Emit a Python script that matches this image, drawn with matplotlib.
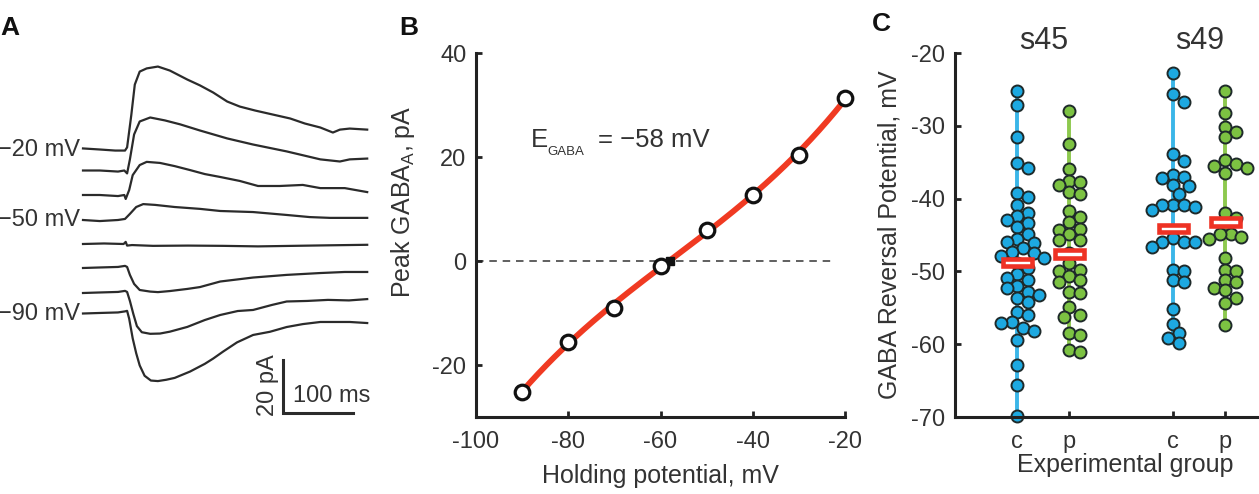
import numpy as np
import matplotlib
matplotlib.use("Agg")
import matplotlib.pyplot as plt
from matplotlib.patches import Rectangle

plt.rcParams['font.family'] = ['Liberation Sans', 'DejaVu Sans']
plt.rcParams['axes.unicode_minus'] = False

# ---------------- data ----------------
# Panel A: example currents (time in ms, current in pA), one per holding potential
trace_labels = ["−20 mV", "", "", "−50 mV", "", "", "", "−90 mV"]
t_m20 = [0, 24, 46, 60, 63, 69, 74, 81, 91, 107, 124, 149, 167, 186, 206, 224, 246, 271, 296, 317, 339, 357, 367, 381, 406]
i_m20 = [0.4, 0, -0.4, -0.4, 0.8, 13, 24.5, 29.4, 30.6, 31.3, 29.8, 26.4, 24.2, 21.5, 18.1, 16.2, 14.7, 13.2, 11.7, 9.8, 8.3, 6.4, 7.5, 7.9, 7.5]
t_m30 = [0, 24, 50, 59, 63, 67, 73, 81, 96, 117, 139, 167, 206, 243, 291, 339, 367, 381, 406]
i_m30 = [0, 0, -0.4, 0, -1.1, 4.2, 13.6, 18.5, 20.0, 18.9, 17.4, 15.1, 12.1, 9.8, 7.2, 4.2, 3.4, 4.2, 4.5]
t_m40 = [0, 24, 50, 59, 61, 66, 71, 81, 91, 110, 131, 153, 174, 196, 224, 250, 281, 314, 339, 374, 406]
i_m40 = [0, 0, -0.4, 0, -1.5, 1.9, 7.5, 11.3, 12.5, 12.1, 10.9, 9.4, 7.9, 6.8, 5.3, 3.4, 3.4, 3.8, 2.6, 2.6, 1.1]
t_m50 = [0, 24, 50, 60, 67, 76, 86, 103, 131, 167, 196, 243, 291, 324, 353, 406]
i_m50 = [0, -0.4, 0, 0.4, 2.3, 4.9, 6.0, 5.7, 4.9, 4.2, 3.4, 3.0, 1.9, 1.1, 0.8, 0.8]
t_m60 = [0, 30, 58, 61, 63, 70, 100, 150, 200, 250, 300, 350, 406]
i_m60 = [0, 0.2, 0, 0.8, -0.6, -0.4, -0.7, -0.6, -0.7, -0.9, -0.7, -0.5, -0.3]
t_m70 = [0, 24, 50, 60, 63, 67, 73, 81, 96, 107, 124, 149, 167, 196, 243, 291, 339, 374, 406]
i_m70 = [0, 0.2, 0.4, 0.8, 0.4, -2.6, -6.0, -8.3, -8.9, -9.1, -8.7, -7.9, -7.2, -5.1, -3.6, -2.6, -1.9, -1.5, -1.5]
t_m80 = [0, 24, 50, 60, 63, 67, 72, 77, 84, 96, 110, 124, 149, 174, 196, 221, 243, 270, 291, 320, 350, 380, 406]
i_m80 = [0, 0.2, 0.4, 0.8, 0.4, -3.0, -8.0, -12.5, -14.8, -15.4, -15.3, -14.6, -12.8, -10.2, -8.3, -6.8, -6.4, -4.5, -3.2, -3.0, -2.6, -2.8, -2.3]
t_m90 = [0, 24, 50, 60, 63, 66, 71, 76, 81, 88, 97, 107, 119, 131, 153, 174, 186, 200, 220, 243, 267, 291, 314, 339, 360, 381, 406]
i_m90 = [0, 0.2, 0.4, 0.8, 1.0, -2.0, -9.4, -15.0, -19.6, -23.5, -25.3, -25.5, -25.0, -24.3, -21.9, -19.0, -17.0, -14.4, -10.9, -8.1, -6.9, -5.1, -4.0, -3.2, -3.2, -3.2, -3.6]
traces_t = [t_m20, t_m30, t_m40, t_m50, t_m60, t_m70, t_m80, t_m90]
traces_i = [i_m20, i_m30, i_m40, i_m50, i_m60, i_m70, i_m80, i_m90]

# Panel B: I-V relation
hold_mV = [-90, -80, -70, -60, -50, -40, -30, -20]
peak_pA = [-25.1, -15.5, -9.1, -0.9, 6.0, 12.7, 20.4, 31.3]
e_gaba = -58

# Panel C: GABA reversal potentials
strains = ["s45", "s49"]
group_labels = ["c", "p", "c", "p"]
s45_c = [-25.2, -27.2, -31.5, -35.1, -35.8, -39.2, -39.8, -40.9, -42.0, -42.4, -42.9, -43.4, -43.9, -44.8,
         -45.5, -45.9, -46.1, -46.8, -47.3, -47.5, -47.9, -48.1, -48.9, -49.6, -50.3, -50.9, -51.2, -52.0,
         -52.3, -52.8, -53.3, -53.6, -54.2, -55.6, -56.0, -56.9, -57.1, -57.8, -58.2, -59.4, -62.9, -65.6, -69.9]
s45_p = [-28.0, -32.5, -35.9, -37.6, -37.7, -38.1, -39.1, -39.3, -41.7, -42.5, -43.2, -44.2, -44.3, -44.8,
         -45.7, -45.7, -47.5, -48.9, -49.8, -50.0, -50.7, -51.2, -51.4, -52.8, -53.0, -54.9, -56.0, -56.2,
         -58.5, -58.8, -60.8, -61.1]
s49_c = [-22.7, -25.7, -26.7, -33.9, -34.9, -36.7, -37.0, -37.2, -38.1, -38.3, -39.3, -40.9, -40.9, -41.1,
         -40.9, -41.6, -45.4, -45.9, -45.9, -45.9, -46.6, -49.8, -50.0, -51.2, -51.4, -55.1, -57.2, -58.5,
         -59.2, -59.9]
s49_p = [-25.2, -28.2, -30.1, -30.8, -31.6, -34.7, -35.2, -35.5, -35.8, -36.5, -42.0, -42.7, -43.5, -44.8,
         -44.8, -45.5, -45.3, -48.2, -49.8, -50.0, -51.2, -51.4, -52.3, -52.6, -53.7, -54.4, -57.4]
group_means = [-48.8, -47.6, -44.1, -43.2]

# ---------------- figure ----------------
W, H = 1259, 494
fig = plt.figure(figsize=(W / 100, H / 100), dpi=100)
TXT = '#333333'
FS = 17
FL = 18

def fx(px):
    return px / W

def fy(py):
    return 1 - py / H

# ---- Panel A ----
axA = fig.add_axes([0, 0, 400 / W, 1])
axA.set_xlim((0 - 83) / 0.7, (400 - 83) / 0.7)
axA.set_ylim((149.5 - 494) / 2.65, 149.5 / 2.65)
axA.axis('off')
baselines_px = [149.5, 170.5, 195, 220, 244, 268, 293, 313.5]
for tt, ii, b, lab in zip(traces_t, traces_i, baselines_px, trace_labels):
    off = (149.5 - b) / 2.65
    axA.plot(tt, np.array(ii) + off, color='#2b2b2b', lw=1.6, solid_joinstyle='round')
    if lab:
        axA.text(-4.5, off, lab, ha='right', va='center', fontsize=FS, color=TXT)
# scale bar: 20 pA, 100 ms
sb_x = (283 - 83) / 0.7
sb_y = (149.5 - 413) / 2.65
axA.plot([sb_x, sb_x, sb_x + 100], [sb_y + 20, sb_y, sb_y], color='#2b2b2b', lw=2.2,
         solid_joinstyle='miter')
axA.text(sb_x - 6, sb_y + 10.5, "20 pA", rotation=90, ha='right', va='center', fontsize=FS, color=TXT)
axA.text(sb_x + 69, sb_y + 6.5, "100 ms", ha='center', va='center', fontsize=FS, color=TXT)

# ---- Panel B ----
axB = fig.add_axes([fx(476), fy(417), 369 / W, 364 / H])
axB.set_xlim(-100, -20)
axB.set_ylim(-30, 40)
for s in ['top', 'right']:
    axB.spines[s].set_visible(False)
for s in ['left', 'bottom']:
    axB.spines[s].set_linewidth(2.2)
    axB.spines[s].set_color('#222222')
axB.set_xticks([-100, -80, -60, -40, -20])
axB.set_yticks([-20, 0, 20, 40])
axB.tick_params(direction='in', length=4, width=2, color='#222222', labelsize=FS, labelcolor=TXT)
axB.tick_params(axis='x', pad=10)
axB.tick_params(axis='y', pad=7)
axB.plot([-100, -23], [0, 0], ls=(0, (4.5, 3.5)), color='#444444', lw=1.2, zorder=1)
coef = np.polyfit(hold_mV, peak_pA, 3)
xf = np.linspace(min(hold_mV), max(hold_mV), 200)
axB.plot(xf, np.polyval(coef, xf), color='#F03A22', lw=4.2, zorder=2, clip_on=False)
axB.plot([e_gaba], [0], marker='s', color='#111111', ms=6, zorder=3)
axB.plot(hold_mV, peak_pA, 'o', mfc='white', mec='#111111', mew=2.3, ms=10.5, zorder=4, clip_on=False)
axB.set_xlabel("Holding potential, mV", fontsize=FL, color=TXT, labelpad=8)
axB.set_ylabel(r"Peak GABA$_\mathregular{A}$, pA", fontsize=FL, color=TXT)
axB.yaxis.set_label_coords(-0.16, 0.59)
axB.text(-88.2, 21.9, "E", fontsize=18.5, color=TXT, ha='left', va='baseline')
axB.text(-84.5, 20.3, "GABA", fontsize=9.5, color=TXT, ha='left', va='baseline')
axB.text(-73.6, 21.9, "= −58 mV", fontsize=18.5, color=TXT, ha='left', va='baseline')

# ---- Panel C ----
axC = fig.add_axes([fx(955), fy(417), (W - 955) / W, 364 / H])
xlim_c = (-0.2, 5.65)
ylim_c = (-70, -20)
axC.set_xlim(*xlim_c)
axC.set_ylim(*ylim_c)
for s in ['top', 'right']:
    axC.spines[s].set_visible(False)
for s in ['left', 'bottom']:
    axC.spines[s].set_linewidth(2.2)
    axC.spines[s].set_color('#222222')
positions = [1, 2, 4, 5]
axC.set_xticks(positions)
axC.set_xticklabels(group_labels)
axC.set_yticks([-70, -60, -50, -40, -30, -20])
axC.tick_params(direction='in', length=4, width=2, color='#222222', labelsize=FS, labelcolor=TXT)
axC.tick_params(axis='x', pad=10)
axC.tick_params(axis='y', pad=7)
axC.set_xlabel("Experimental group", fontsize=FL, color=TXT)
axC.xaxis.set_label_coords(0.56, -0.1)
axC.set_ylabel("GABA Reversal Potential, mV", fontsize=FL, color=TXT)
axC.yaxis.set_label_coords(-0.175, 0.5)

px_per_x = (W - 955) / (xlim_c[1] - xlim_c[0])
px_per_y = 364 / (ylim_c[1] - ylim_c[0])
diam = 12.0

def swarm_offsets(vals):
    vals = np.asarray(vals, float)
    order = np.argsort(-vals)
    placed = []
    offs = np.zeros(len(vals))
    step = diam * 0.45
    for idx in order:
        y = vals[idx] * px_per_y
        cands = [0.0]
        for k in range(1, 8):
            cands += [k * step, -k * step]
        for c in cands:
            ok = all((c - px) ** 2 + (y - py) ** 2 >= (diam * 0.82) ** 2 for px, py in placed)
            if ok:
                break
        placed.append((c, y))
        offs[idx] = c / px_per_x
    return offs

groups = [s45_c, s45_p, s49_c, s49_p]
fills = ['#1DA9E1', '#7CC242', '#1DA9E1', '#7CC242']
lines = ['#3BB6E8', '#8DC94E', '#3BB6E8', '#8DC94E']
for pos, vals, fc, lc, m in zip(positions, groups, fills, lines, group_means):
    axC.plot([pos, pos], [min(vals), max(vals)], color=lc, lw=2.8, zorder=1)
    offs = swarm_offsets(vals)
    axC.scatter(pos + offs, vals, s=(diam * 0.72) ** 2, facecolor=fc, edgecolor='#1e2a2a',
                linewidth=1.4, zorder=2, clip_on=False)
    bw = 0.56
    axC.add_patch(Rectangle((pos - bw / 2, m - 0.5), bw, 1.0, facecolor='white',
                            edgecolor='#EE3224', linewidth=3.3, zorder=3))
for xs, lab in zip([1.5, 4.5], strains):
    axC.annotate(lab, xy=(xs, 1.032), xycoords=('data', 'axes fraction'), ha='center', va='center',
                 fontsize=22, color=TXT)

# panel letters
fig.text(fx(0), fy(28), "A", fontsize=19, fontweight='bold', ha='left', va='center', color='#111111')
fig.text(fx(399), fy(28), "B", fontsize=19, fontweight='bold', ha='left', va='center', color='#111111')
fig.text(fx(872), fy(24), "C", fontsize=19, fontweight='bold', ha='left', va='center', color='#111111')

fig.savefig("out.png", dpi=100)
